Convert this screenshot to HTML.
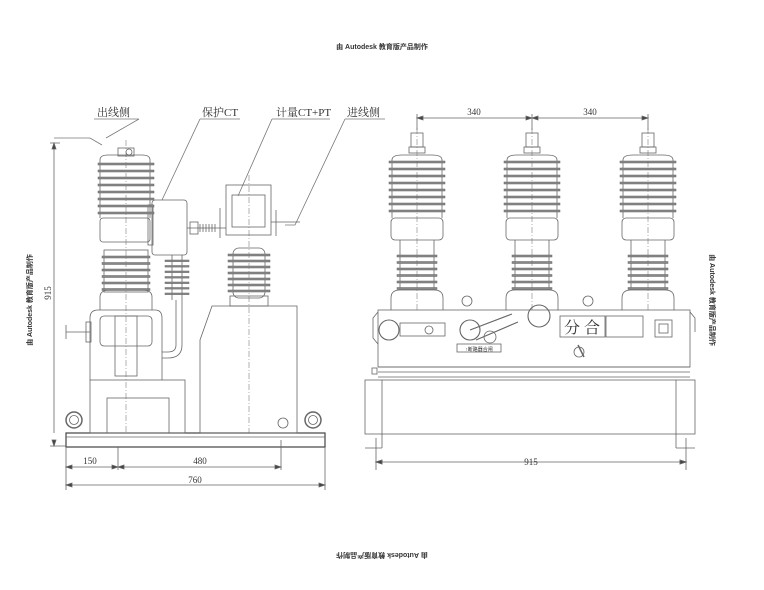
<!DOCTYPE html><html><head><meta charset="utf-8"><style>
body{margin:0;background:#fff}
svg{display:block}
text{font-family:"Liberation Sans","Noto Sans CJK SC",sans-serif;fill:#333}
.c{font-family:"Liberation Serif","Noto Serif CJK SC",serif}
</style></head><body>
<svg id="s" width="764" height="590" viewBox="0 0 764 590" xmlns="http://www.w3.org/2000/svg" fill="none" stroke="#666" stroke-width="0.8">
<text x="382" y="49" font-size="7" text-anchor="middle" stroke="none" font-weight="bold">由 Autodesk 教育版产品制作</text>
<text x="382" y="557" font-size="7" text-anchor="middle" stroke="none" font-weight="bold" transform="rotate(180 382 555)">由 Autodesk 教育版产品制作</text>
<text x="0" y="0" font-size="7" text-anchor="middle" stroke="none" font-weight="bold" transform="translate(32 300) rotate(-90)">由 Autodesk 教育版产品制作</text>
<text x="0" y="0" font-size="7" text-anchor="middle" stroke="none" font-weight="bold" transform="translate(710 300) rotate(90)">由 Autodesk 教育版产品制作</text>

<!-- labels -->
<g stroke="none" font-size="11" class="c">
<text x="97" y="116" class="c">出线侧</text>
<text x="202" y="116" class="c">保护CT</text>
<text x="276" y="116" class="c">计量CT+PT</text>
<text x="347" y="116" class="c">进线侧</text>
</g>
<g stroke="#777">
<path d="M94 119H139 M139 119L106 138 M54 138H90L102 145"/>
<path d="M200 119H240 M200 119L162 200"/>
<path d="M272 119H330 M272 119L238 196"/>
<path d="M345 119H385 M345 119L295 225H285"/>
</g>

<!-- LEFT VIEW -->
<g id="L">
<rect x="66" y="433" width="259" height="14" stroke="#444" stroke-width="1.2"/>
<line x1="66" y1="437" x2="325" y2="437"/>
<!-- 915 vertical -->
<path d="M54 143V433 M50 143H60 M50 446H66"/>
<path d="M54 143l-2 6h4z M54 446l-2-6h4z" fill="#444"/>
<text x="0" y="0" font-size="9" stroke="none" class="c" transform="translate(51 293) rotate(-90)" text-anchor="middle">915</text>
<!-- horizontal dims -->
<path d="M66 447V490 M118 447V470 M281 440V470 M325 447V490"/>
<path d="M66 467H281 M66 485H325"/>
<path d="M66 467l6-2v4z M118 467l-6-2v4z M118 467l6-2v4z M281 467l-6-2v4z M66 485l6-2v4z M325 485l-6-2v4z" fill="#444"/>
<text x="90" y="464" font-size="9" stroke="none" class="c" text-anchor="middle">150</text>
<text x="200" y="464" font-size="9" stroke="none" class="c" text-anchor="middle">480</text>
<text x="195" y="483" font-size="9" stroke="none" class="c" text-anchor="middle">760</text>
<!-- lifting eyes -->
<circle cx="74" cy="420" r="8" stroke-width="1.5"/><circle cx="74" cy="420" r="4.5"/>
<circle cx="313" cy="420" r="8" stroke-width="1.5"/><circle cx="313" cy="420" r="4.5"/>
<!-- left pole body -->
<rect x="90" y="380" width="95" height="53"/>
<rect x="107" y="398" width="62" height="35"/>
<path d="M90 380V318Q90 310 98 310H155Q162 310 162 318V380"/>
<rect x="100" y="316" width="52" height="30" rx="4"/>
<rect x="115" y="316" width="22" height="60"/>
<path d="M66 325v14 M66 332H90"/><rect x="86" y="322" width="5" height="20"/>
<path d="M100 310V297Q100 290 110 290H142Q152 290 152 297V310"/>
<!-- lower sheds -->
<rect x="104" y="250" width="44" height="42"/>
<!-- collar -->
<rect x="100" y="218" width="50" height="24" rx="3"/>
<path d="M100 160Q100 155 108 155H142Q150 155 150 160V218"/>
<path d="M100 160V218"/>
<rect x="118" y="148" width="16" height="8"/>
<circle cx="129" cy="152" r="3"/>
<line x1="126" y1="140" x2="126" y2="433" stroke-dasharray="6 2 1 2" stroke-width="0.5"/>
<!-- protect CT -->
<rect x="152" y="200" width="35" height="55" rx="3"/>
<rect x="148" y="205" width="5" height="40"/>
<path d="M172 255V300 M182 255V300 M176 300V345Q176 352 168 352H162 M182 300V345Q182 358 168 358H162"/>
<path d="M187 228H226"/>
<rect x="190" y="222" width="8" height="12"/>
<!-- right PT -->
<rect x="226" y="185" width="45" height="50"/>
<rect x="232" y="195" width="33" height="32"/>
<path d="M220 208v30 M276 210v26 M271 222H300"/>
<rect x="233" y="248" width="32" height="50" rx="6"/>
<rect x="230" y="296" width="38" height="10"/>
<path d="M200 340L212 306H297V433H200Z"/>
<circle cx="283" cy="423" r="5"/>
<line x1="249" y1="175" x2="249" y2="433" stroke-dasharray="6 2 1 2" stroke-width="0.5"/>
</g>

<!-- RIGHT VIEW -->
<g>
<path d="M417 114V130 M532 114V130 M648 114V130 M417 118H648"/>
<path d="M417 118l6-2v4z M532 118l-6-2v4z M532 118l6-2v4z M648 118l-6-2v4z" fill="#444"/>
<text x="474" y="115" font-size="9" stroke="none" class="c" text-anchor="middle">340</text>
<text x="590" y="115" font-size="9" stroke="none" class="c" text-anchor="middle">340</text>
<rect x="378" y="310" width="312" height="57"/>
<path d="M378 367H690 M378 372H690 M378 377H690"/>
<rect x="365" y="380" width="330" height="54"/>
<path d="M382 380V448 M676 380V448 M365 448H382 M676 448H695"/>
<path d="M376 438V470 M686 438V470 M376 462H686 M376 462l6-2v4z M686 462l-6-2v4z" fill="none"/>
<path d="M376 462l6-2v4z M686 462l-6-2v4z" fill="#444"/>
<text x="531" y="465" font-size="9" stroke="none" class="c" text-anchor="middle">915</text>
<!-- panel items -->
<circle cx="389" cy="330" r="10" stroke-width="1.1"/>
<rect x="400" y="323" width="45" height="13"/>
<circle cx="429" cy="330" r="4"/>
<circle cx="470" cy="330" r="10" stroke-width="1.1"/>
<path d="M470 330L512 314 M476 340L518 322" stroke-width="1.1"/>
<circle cx="490" cy="337" r="6"/>
<circle cx="539" cy="316" r="11" stroke-width="1.1"/>
<rect x="457" y="344" width="44" height="8"/>
<text x="479" y="351" font-size="5" stroke="none" text-anchor="middle">↑断路器合闸</text>
<rect x="560" y="316" width="45" height="21"/>
<text x="582" y="333" font-size="16" stroke="none" text-anchor="middle" class="c">分 合</text>
<rect x="606" y="316" width="37" height="21"/>
<rect x="655" y="320" width="17" height="17"/><rect x="659" y="324" width="9" height="9"/>
<path d="M578 345l6 12" stroke-width="1.5"/><circle cx="579" cy="352" r="5"/>
<rect x="372" y="368" width="5" height="6"/>
<path d="M378 312l-5 6v20l5 6 M690 312l5 6v14"/>
<circle cx="467" cy="301" r="5"/><circle cx="588" cy="301" r="5"/>
</g>
<g id="poles"></g>
</svg>
<script>
var ns="http://www.w3.org/2000/svg",g=document.getElementById('poles');
function el(t,a){var e=document.createElementNS(ns,t);for(var k in a)e.setAttribute(k,a[k]);g.appendChild(e);return e;}
[417,532,648].forEach(function(c){
 el('rect',{x:c-6,y:133,width:12,height:14});
 el('rect',{x:c-8,y:147,width:16,height:6});
 el('path',{d:'M'+(c-25)+' 218V160Q'+(c-25)+' 155 '+(c-15)+' 155H'+(c+15)+'Q'+(c+25)+' 155 '+(c+25)+' 160V218'});
 for(var i=0;i<8;i++){el('rect',{x:c-28,y:161+i*7,width:56,height:2,fill:'#888',stroke:'#666','stroke-width':0.5});}
 el('rect',{x:c-26,y:218,width:52,height:22,rx:4,fill:'#fff'});
 el('path',{d:'M'+(c-17)+' 240V290 M'+(c+17)+' 240V290'});
 for(var i=0;i<6;i++){el('rect',{x:c-20,y:255+i*6.5,width:40,height:2,fill:'#888',stroke:'#666','stroke-width':0.5});}
 el('path',{d:'M'+(c-26)+' 310V298Q'+(c-26)+' 290 '+(c-17)+' 290H'+(c+17)+'Q'+(c+26)+' 290 '+(c+26)+' 298V310'});
 el('line',{x1:c,y1:128,x2:c,y2:310,'stroke-width':0.5,'stroke-dasharray':'6 2 1 2'});
});
[126].forEach(function(c){
 for(var i=0;i<8;i++){el('rect',{x:c-28,y:163+i*7,width:56,height:2,fill:'#888',stroke:'#666','stroke-width':0.5});}
 for(var i=0;i<6;i++){el('rect',{x:c-24,y:256+i*6.5,width:48,height:2,fill:'#888',stroke:'#666','stroke-width':0.5});}
});
for(var i=0;i<7;i++){el('rect',{x:165,y:260+i*5.5,width:24,height:1.6,fill:'#888',stroke:'#666','stroke-width':0.5});}
for(var i=0;i<7;i++){el('rect',{x:228,y:254+i*6,width:42,height:2,fill:'#888',stroke:'#666','stroke-width':0.5});}
for(var i=0;i<6;i++){el('line',{x1:200+i*3,y1:224,x2:200+i*3,y2:232});}
</script>
</body></html>
